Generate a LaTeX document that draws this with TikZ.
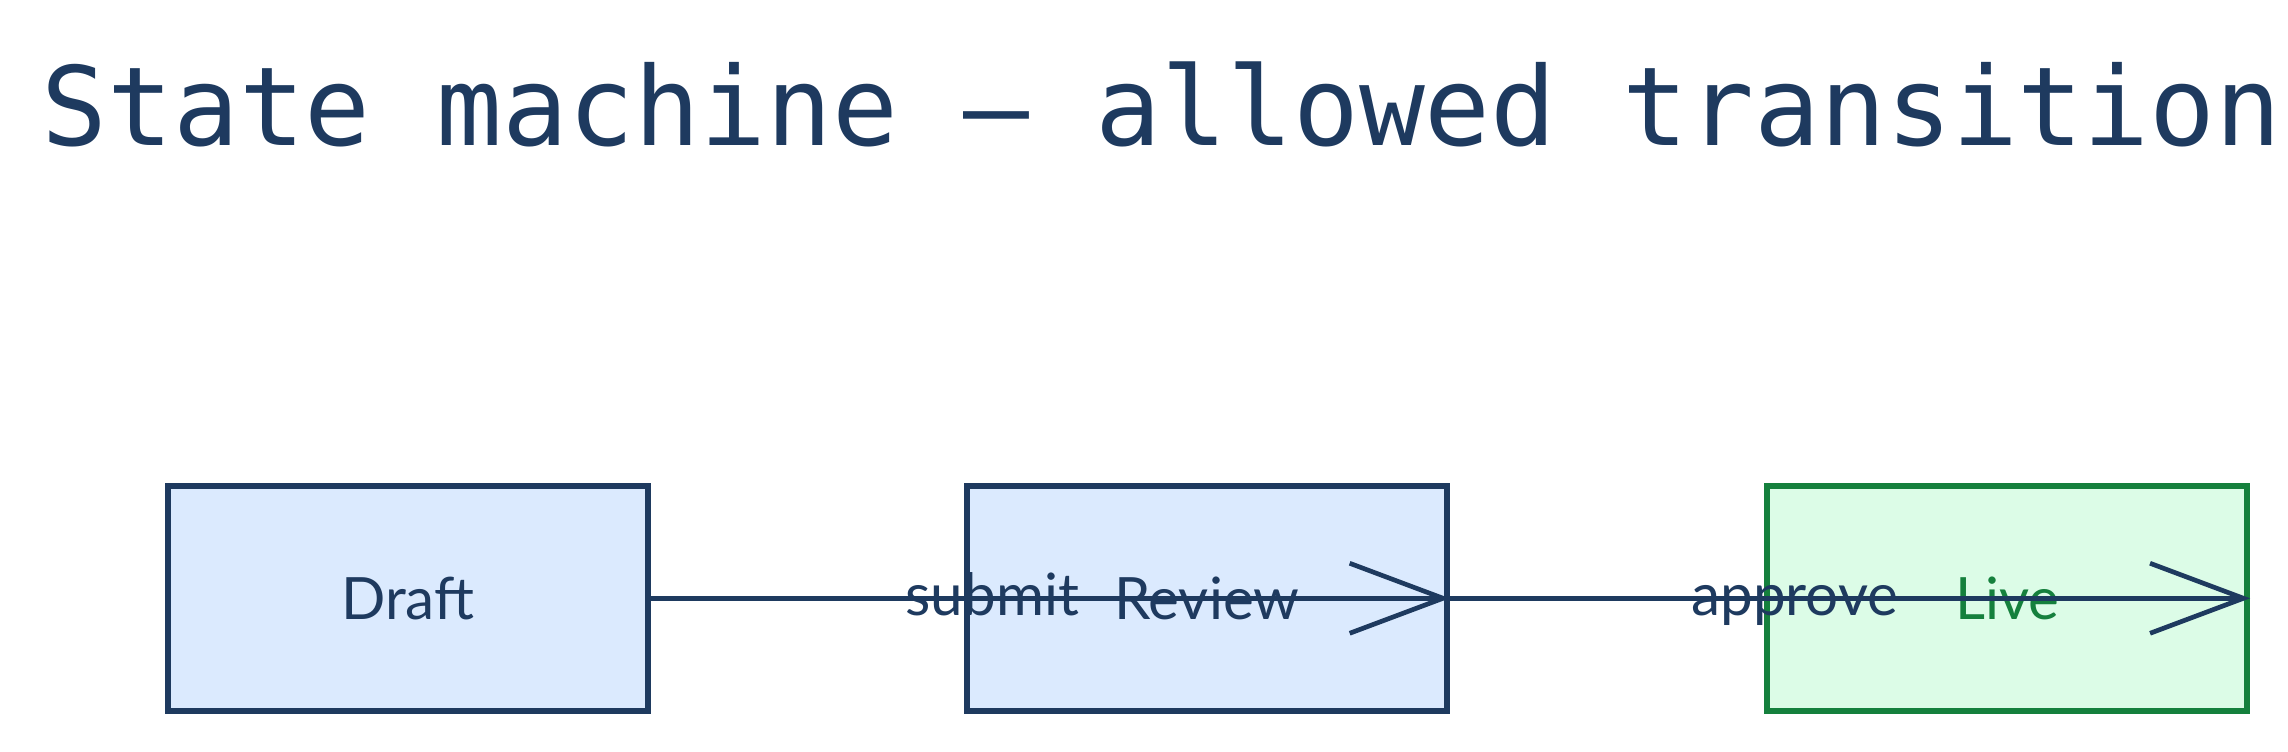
\documentclass[tikz,border=0pt]{standalone}
\usepackage{fontspec}
\setmainfont{Lato}
\newfontfamily\titlefont{DejaVu Sans Mono}
\usetikzlibrary{arrows.meta}
\definecolor{navy}{HTML}{1E3A5F}
\definecolor{bluef}{HTML}{DBEAFE}
\definecolor{greenf}{HTML}{DCFCE7}
\definecolor{greend}{HTML}{15803D}
\begin{document}
\begin{tikzpicture}[x=0.5pt,y=-0.5pt,
  st/.style={draw=navy,line width=2pt,fill=bluef,minimum width=164.5pt,minimum height=77pt,inner sep=0pt,font=\fontsize{20}{24}\selectfont,text=navy},
  tr/.style={draw=navy,line width=1.6pt,-{Straight Barb[length=32pt,width=24pt,line width=1.6pt]}},
  lb/.style={font=\fontsize{20}{24}\selectfont,text=navy,inner sep=0pt,anchor=base}]
\useasboundingbox (0,0) rectangle (1568,515);
\clip (0,0) rectangle (1568,515);
\node[anchor=base west,text=navy,font=\titlefont\fontsize{37.5}{40}\selectfont,inner sep=0pt] (title) at (28,100) {State machine – allowed transitions};
\node[st] (draft) at (279.5,410) {Draft};
\node[st] (review) at (827,410) {Review};
\node[st,draw=greend,fill=greenf,text=greend] (live) at (1375.5,410) {Live};
\draw[tr] (draft.east) -- (review.east);
\draw[tr] (review.east) -- (live.east);
\node[lb] (l1) at (680,422) {submit};
\node[lb] (l2) at (1230,422) {approve};
\end{tikzpicture}
\end{document}
